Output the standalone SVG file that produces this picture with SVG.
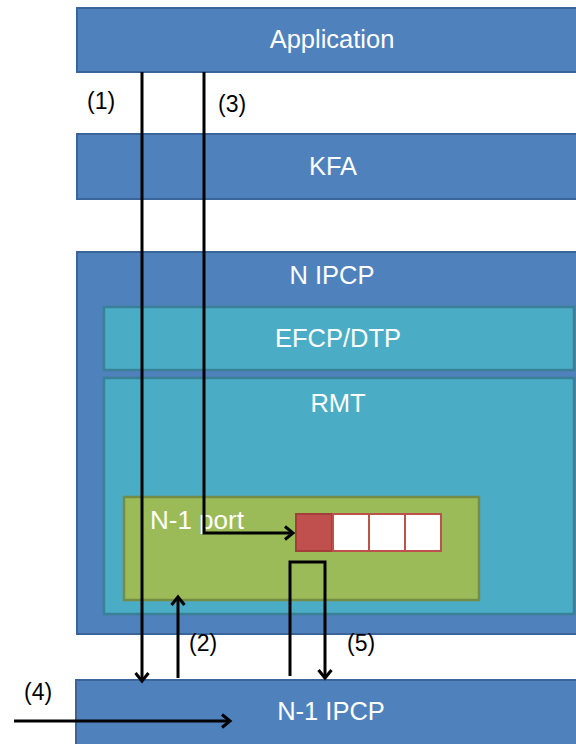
<svg xmlns="http://www.w3.org/2000/svg" width="576" height="744" viewBox="0 0 576 744">
  <style>
    .blue { fill: #4F81BD; stroke: #3A659A; stroke-width: 2; }
    .teal { fill: #4BACC6; stroke: #3A8096; stroke-width: 2.5; }
    .green { fill: #9BBB59; stroke: #748C43; stroke-width: 2.5; }
    .cell { fill: #FFFFFF; stroke: #C0504D; stroke-width: 2; }
    .head { fill: #C0504D; stroke: #A33E3B; stroke-width: 2; }
    .title { font-family: "Liberation Sans", Arial, sans-serif; font-size: 25.5px; fill: #FFFFFF; text-anchor: middle; }
    .port { font-family: "Liberation Sans", Arial, sans-serif; font-size: 26px; fill: #FFFFFF; }
    .step { font-family: "Liberation Sans", Arial, sans-serif; font-size: 23px; fill: #000000; }
    .wire { fill: none; stroke: #000000; stroke-width: 3; }
  </style>
  <defs>
    <marker id="chevron" markerWidth="14" markerHeight="16" refX="10" refY="8" orient="auto" markerUnits="userSpaceOnUse">
      <path d="M2,1.5 L10,8 L2,14.5" fill="none" stroke="#000000" stroke-width="3"/>
    </marker>
  </defs>

  <g id="application">
    <rect class="blue" x="77" y="8" width="520" height="64"/>
    <text class="title" x="332" y="48">Application</text>
  </g>

  <g id="kfa">
    <rect class="blue" x="77" y="134" width="520" height="65"/>
    <text class="title" x="333" y="175">KFA</text>
  </g>

  <g id="n-ipcp">
    <rect class="blue" x="77" y="252" width="520" height="382"/>
    <text class="title" x="332" y="284">N IPCP</text>
  </g>

  <g id="efcp-dtp">
    <rect class="teal" x="104" y="307" width="470" height="63"/>
    <text class="title" x="338" y="347">EFCP/DTP</text>
  </g>

  <g id="rmt">
    <rect class="teal" x="104" y="378" width="470" height="236"/>
    <text class="title" x="338" y="412">RMT</text>
  </g>

  <g id="n1-port">
    <rect class="green" x="124" y="497" width="355" height="103"/>
    <text class="port" x="150" y="529">N-1 port</text>
  </g>

  <g id="queue">
    <rect class="head" x="296" y="514" width="36" height="37"/>
    <rect class="cell" x="333" y="514" width="36" height="37"/>
    <rect class="cell" x="369" y="514" width="36" height="37"/>
    <rect class="cell" x="405" y="514" width="36" height="37"/>
  </g>

  <g id="n1-ipcp">
    <rect class="blue" x="76" y="680" width="520" height="70"/>
    <text class="title" x="331" y="720">N-1 IPCP</text>
  </g>

  <g id="connectors">
    <!-- (1) application straight down to N-1 IPCP -->
    <path class="wire" d="M142,72 V681" marker-end="url(#chevron)"/>
    <!-- (3) application down into the queue -->
    <path class="wire" d="M204,72 V533 H293" marker-end="url(#chevron)"/>
    <!-- (2) N-1 IPCP up into the port -->
    <path class="wire" d="M178,678 V597" marker-end="url(#chevron)"/>
    <!-- (5) loop from N-1 IPCP back down -->
    <path class="wire" d="M290,676 V562 H325 V678" marker-end="url(#chevron)"/>
    <!-- (4) incoming into N-1 IPCP -->
    <path class="wire" d="M14,721 H230" marker-end="url(#chevron)"/>
  </g>

  <g id="labels">
    <text class="step" x="87" y="109">(1)</text>
    <text class="step" x="218" y="112">(3)</text>
    <text class="step" x="189" y="651">(2)</text>
    <text class="step" x="347" y="651">(5)</text>
    <text class="step" x="24" y="700">(4)</text>
  </g>
</svg>
